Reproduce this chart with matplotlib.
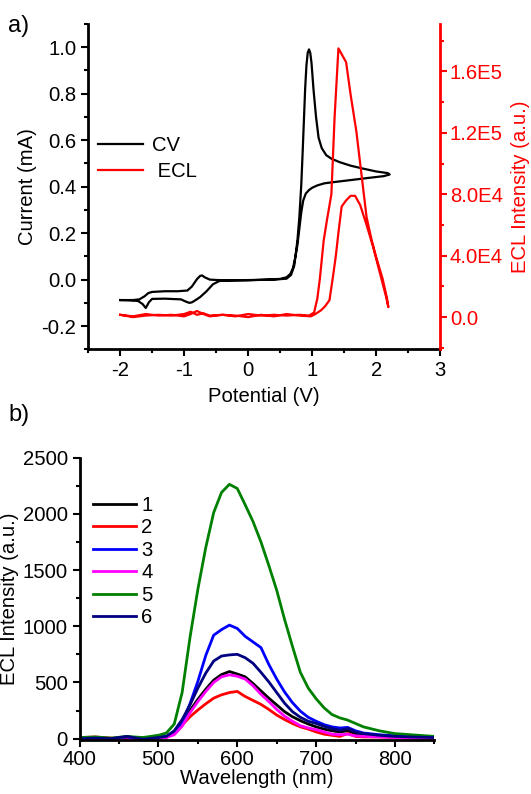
import matplotlib
matplotlib.use("Agg")
import matplotlib.pyplot as plt
from matplotlib.ticker import MultipleLocator, FixedLocator, FixedFormatter

plt.rcParams['font.family'] = ['Liberation Sans', 'DejaVu Sans']
plt.rcParams['font.size'] = 14.6
plt.rcParams['axes.unicode_minus'] = False

# ---- panel a: CV (forward / reverse scans) ----
cv_fwd_E = [-2.0, -1.8, -1.7, -1.62, -1.56, -1.5, -1.3, -1.1, -0.95, -0.88, -0.8, -0.75,
            -0.72, -0.68, -0.6, -0.4, 0.0, 0.4, 0.6, 0.67, 0.72, 0.77, 0.8, 0.83, 0.85,
            0.87, 0.89, 0.91, 0.93, 0.95, 0.97, 0.99, 1.02, 1.06, 1.1, 1.15, 1.22, 1.3,
            1.43, 1.6, 1.8, 2.0, 2.18, 2.21]
cv_fwd_I = [-0.088, -0.088, -0.085, -0.072, -0.058, -0.053, -0.05, -0.05, -0.047, -0.03,
            0.002, 0.016, 0.018, 0.01, 0.0, -0.003, -0.002, 0.0, 0.004, 0.02, 0.06, 0.17,
            0.27, 0.41, 0.54, 0.68, 0.82, 0.92, 0.975, 0.99, 0.975, 0.93, 0.82, 0.7, 0.61,
            0.565, 0.535, 0.52, 0.505, 0.49, 0.477, 0.465, 0.458, 0.452]
cv_rev_E = [2.21, 2.12, 1.9, 1.6, 1.3, 1.19, 1.08, 1.0, 0.95, 0.9, 0.86, 0.83, 0.8, 0.77,
            0.74, 0.7, 0.66, 0.6, 0.5, 0.3, 0.0, -0.3, -0.45, -0.55, -0.65, -0.75, -0.82,
            -0.88, -0.92, -0.97, -1.05, -1.3, -1.5, -1.55, -1.6, -1.65, -1.72, -1.85, -2.0]
cv_rev_I = [0.452, 0.445, 0.438, 0.428, 0.418, 0.414, 0.405, 0.395, 0.385, 0.37, 0.34,
            0.29, 0.22, 0.15, 0.1, 0.05, 0.025, 0.01, 0.003, 0.0, -0.003, -0.004, -0.006,
            -0.02, -0.05, -0.075, -0.088, -0.098, -0.1, -0.095, -0.085, -0.082, -0.083,
            -0.097, -0.122, -0.105, -0.092, -0.089, -0.088]

# ---- panel a: ECL ----
ecl_fwd_E = [-2.0, -1.8, -1.6, -1.4, -1.2, -1.0, -0.9, -0.8, -0.7, -0.6, -0.4, -0.2, 0.0,
             0.2, 0.4, 0.6, 0.8, 0.95, 1.03, 1.08, 1.12, 1.18, 1.23, 1.3, 1.35, 1.41,
             1.53, 1.6, 1.69, 1.77, 1.85, 1.93, 2.0, 2.1, 2.17, 2.19]
ecl_fwd_I = [1500, 0, 1000, 1500, 1000, 2000, 3500, 1500, 2500, 1000, 1500, 500, 2000,
             1000, 1500, 1000, 1500, 1000, 3000, 12000, 25000, 50000, 63000, 80000,
             130000, 175000, 166000, 145000, 121000, 93000, 65000, 50000, 39000, 25000,
             12000, 6500]
ecl_rev_E = [2.19, 2.15, 2.05, 1.95, 1.85, 1.75, 1.67, 1.6, 1.53, 1.46, 1.41, 1.37, 1.32,
             1.27, 1.2, 1.14, 1.05, 0.98, 0.8, 0.6, 0.4, 0.2, 0.0, -0.2, -0.4, -0.6, -0.7,
             -0.8, -0.9, -1.0, -1.2, -1.4, -1.6, -1.8, -2.0]
ecl_rev_I = [6500, 14000, 30000, 46000, 60000, 73000, 79000, 79000, 76000, 72000, 55000,
             40000, 25000, 11000, 7000, 4500, 2000, 500, 1000, 2000, 500, 1500, 0, 1000,
             1500, 500, 2000, 4000, 2000, 500, 1500, 1000, 2000, 500, 1500]

ecl_ticks = [0, 40000, 80000, 120000, 160000]
ecl_tick_labels = ['0.0', '4.0E4', '8.0E4', '1.2E5', '1.6E5']

# ---- panel b: ECL spectra ----
wavelength = [400, 420, 440, 460, 480, 500, 510, 520, 530, 540, 550, 560, 570, 580, 590,
              600, 610, 620, 630, 640, 650, 660, 670, 680, 690, 700, 710, 720, 730, 740,
              750, 760, 780, 800, 820, 850]
spec_1 = [5, 10, 0, 15, 5, 10, 15, 50, 130, 250, 350, 440, 520, 570, 597, 575, 550, 490,
          425, 360, 300, 240, 195, 160, 130, 105, 85, 70, 60, 70, 45, 35, 25, 15, 10, 5]
spec_2 = [10, 15, 5, 0, 10, 5, 10, 50, 120, 195, 255, 310, 360, 390, 410, 420, 375, 340,
          305, 260, 210, 170, 135, 105, 85, 60, 40, 30, 20, 45, 20, 15, 15, 10, 5, 0]
spec_3 = [0, 10, -5, 15, -10, 15, 20, 60, 140, 310, 510, 740, 920, 970, 1010, 980, 910,
          860, 810, 660, 530, 415, 320, 245, 190, 155, 125, 105, 95, 100, 70, 50, 35, 25,
          15, 10]
spec_4 = [0, 5, -10, -15, 0, 5, 10, 35, 110, 230, 330, 420, 500, 550, 568, 555, 530, 470,
          395, 330, 260, 200, 155, 115, 95, 80, 60, 40, 35, 40, 25, 20, 15, 10, 5, 5]
spec_5 = [10, 15, 5, 20, 10, 30, 50, 130, 410, 900, 1330, 1700, 2010, 2190, 2262, 2225,
          2080, 1930, 1750, 1540, 1320, 1060, 820, 590, 450, 355, 275, 215, 185, 165, 135,
          105, 70, 45, 35, 20]
spec_6 = [0, 5, 0, 20, -5, 10, 20, 70, 170, 300, 450, 583, 690, 735, 745, 750, 720, 670,
          590, 505, 410, 315, 240, 190, 155, 135, 110, 90, 75, 90, 60, 45, 30, 20, 15, 10]
spec_labels = ['1', '2', '3', '4', '5', '6']
spec_colors = ['black', '#ff0000', '#0000ff', '#ff00ff', '#008000', '#000080']

fig = plt.figure(figsize=(5.31, 7.94), dpi=100)

# ---------------- panel a ----------------
ax = fig.add_axes([0.166, 0.560, 0.663, 0.410])
ax2 = ax.twinx()
l_cv, = ax.plot(cv_fwd_E + cv_rev_E, cv_fwd_I + cv_rev_I, color='black', lw=1.6)
l_ecl, = ax2.plot(ecl_fwd_E + ecl_rev_E, ecl_fwd_I + ecl_rev_I, color='#ff0000', lw=1.6)

ax.set_xlim(-2.5, 3)
ax.set_ylim(-0.3, 1.1)
ax2.set_ylim(-21000, 191000)
ax.xaxis.set_major_locator(MultipleLocator(1))
ax.xaxis.set_minor_locator(MultipleLocator(0.5))
ax.yaxis.set_major_locator(MultipleLocator(0.2))
ax.yaxis.set_minor_locator(MultipleLocator(0.1))
ax.yaxis.set_major_formatter(plt.FuncFormatter(lambda v, p: f'{v:.1f}'))
ax2.yaxis.set_major_locator(FixedLocator(ecl_ticks))
ax2.yaxis.set_major_formatter(FixedFormatter(ecl_tick_labels))
ax2.yaxis.set_minor_locator(MultipleLocator(20000))

for a in (ax, ax2):
    a.spines['top'].set_visible(False)
    for s in a.spines.values():
        s.set_linewidth(2)
ax.spines['right'].set_visible(False)
ax2.spines['left'].set_visible(False)
ax2.spines['bottom'].set_visible(False)
ax2.spines['right'].set_color('#ff0000')
ax.tick_params(which='major', direction='out', length=5, width=1.5)
ax.tick_params(which='minor', direction='out', length=3, width=1.5)
ax2.tick_params(which='major', direction='out', length=5, width=1.5, color='#ff0000',
                labelcolor='#ff0000', pad=2)
ax2.tick_params(which='minor', direction='out', length=3, width=1.5, color='#ff0000')

ax.set_xlabel('Potential (V)', labelpad=5)
ax.set_ylabel('Current (mA)', labelpad=3)
ax2.set_ylabel('ECL Intensity (a.u.)', color='#ff0000', labelpad=6)

ax.legend([l_cv, l_ecl], ['CV', ' ECL'], loc='upper left', bbox_to_anchor=(0.028, 0.655),
          frameon=False, borderpad=0, borderaxespad=0, handlelength=2.2,
          handletextpad=0.45, labelspacing=0.35)

fig.text(0.016, 0.967, 'a)', fontsize=17, va='center')

# ---------------- panel b ----------------
bx = fig.add_axes([0.150, 0.068, 0.668, 0.3557])
spectra = [spec_1, spec_2, spec_3, spec_4, spec_5, spec_6]
for spec, lab, col in zip(spectra, spec_labels, spec_colors):
    bx.plot(wavelength, spec, color=col, lw=2, label=lab)

bx.set_xlim(400, 850)
bx.set_ylim(-12, 2500)
bx.xaxis.set_major_locator(MultipleLocator(100))
bx.xaxis.set_minor_locator(MultipleLocator(50))
bx.yaxis.set_major_locator(MultipleLocator(500))
bx.yaxis.set_minor_locator(MultipleLocator(250))
bx.spines['top'].set_visible(False)
bx.spines['right'].set_visible(False)
for s in ('left', 'bottom'):
    bx.spines[s].set_linewidth(2)
bx.tick_params(which='major', direction='out', length=5, width=1.5)
bx.tick_params(which='minor', direction='out', length=3, width=1.5)
bx.tick_params(axis='x', pad=2.5)
bx.set_xlabel('Wavelength (nm)', labelpad=0)
bx.set_ylabel('ECL Intensity (a.u.)', labelpad=3)
bx.legend(loc='upper left', bbox_to_anchor=(0.038, 0.864), frameon=False, borderpad=0,
          borderaxespad=0, handlelength=2.1, handletextpad=0.27, labelspacing=0.17)

fig.text(0.016, 0.477, 'b)', fontsize=17, va='center')

fig.savefig('out.png', dpi=100)
